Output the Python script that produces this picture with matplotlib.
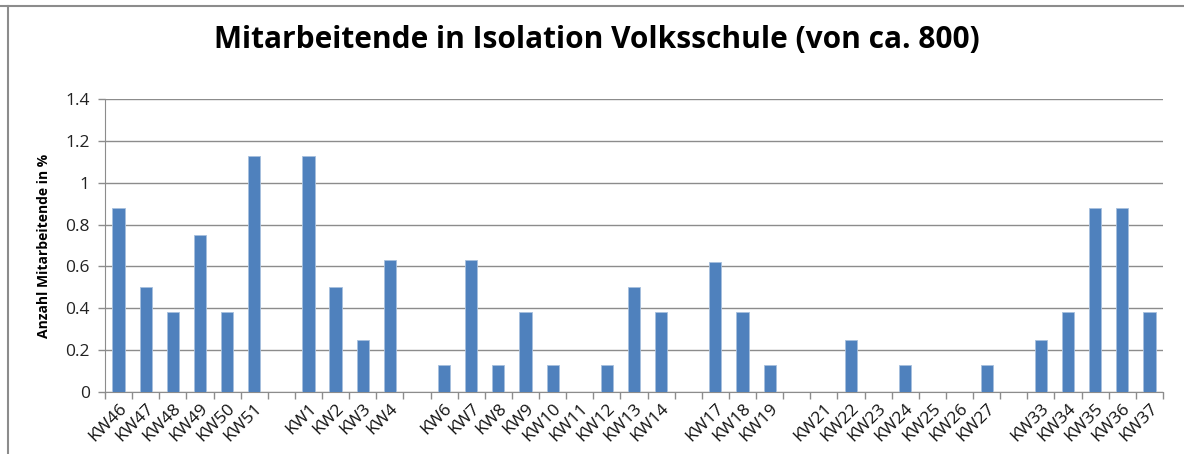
import matplotlib
matplotlib.use("Agg")
import matplotlib.pyplot as plt
import numpy as np

categories = ["KW46", "KW47", "KW48", "KW49", "KW50", "KW51", "",
              "KW1", "KW2", "KW3", "KW4", "",
              "KW6", "KW7", "KW8", "KW9", "KW10", "KW11", "KW12", "KW13", "KW14", "",
              "KW17", "KW18", "KW19", "",
              "KW21", "KW22", "KW23", "KW24", "KW25", "KW26", "KW27", "",
              "KW33", "KW34", "KW35", "KW36", "KW37"]
values = [0.88, 0.50, 0.38, 0.75, 0.38, 1.13, 0,
          1.13, 0.50, 0.25, 0.63, 0,
          0.13, 0.63, 0.13, 0.38, 0.13, 0, 0.13, 0.50, 0.38, 0,
          0.62, 0.38, 0.13, 0,
          0, 0.25, 0, 0.13, 0, 0, 0.13, 0,
          0.25, 0.38, 0.88, 0.88, 0.38]
yticks = [0, 0.2, 0.4, 0.6, 0.8, 1, 1.2, 1.4]
ytick_labels = ["0", "0.2", "0.4", "0.6", "0.8", "1", "1.2", "1.4"]

plt.rcParams['font.family'] = ['Open Sans', 'DejaVu Sans']

fig = plt.figure(figsize=(11.84, 4.54), dpi=100)
ax = fig.add_axes([105/1184, 1-392/454, (1163-105)/1184, (392-99)/454])

n = len(categories)
x = np.arange(n)
ax.bar(x, values, width=0.45, color="#4F81BD", edgecolor="#A7C0DE", linewidth=0.6, zorder=3)

ax.set_xlim(-0.5, n - 0.5)
ax.set_ylim(0, 1.4)
ax.set_yticks(yticks)
ax.set_yticklabels(ytick_labels, fontsize=12.5, color="#222222")
ax.yaxis.grid(True, color="#8C8C8C", linewidth=1.0, zorder=0)

ax.set_xticks(x)
ax.set_xticklabels(categories, rotation=45, ha="right", rotation_mode="anchor", fontsize=12.5, color="#111111")
ax.tick_params(axis="x", which="major", length=0, pad=6)
ax.set_xticks(np.arange(n + 1) - 0.5, minor=True)
ax.tick_params(axis="x", which="minor", length=5, width=1, color="#8C8C8C", direction="out")
ax.tick_params(axis="y", length=5, width=1, color="#8C8C8C", direction="out", pad=6)

for s in ["top", "right"]:
    ax.spines[s].set_visible(False)
ax.spines["left"].set_color("#8C8C8C")
ax.spines["bottom"].set_color("#8C8C8C")

ax.set_ylabel("Anzahl Mitarbeitende in %", fontsize=10, fontweight="bold", labelpad=10)

fig.text(597/1184, 1-40/454, "Mitarbeitende in Isolation Volksschule (von ca. 800)",
         ha="center", va="center", fontsize=21.5, fontweight="bold")

# outer frame lines (top and left)
fig.add_artist(plt.Line2D([0, 1], [1-6/454, 1-6/454], color="#8C8C8C", linewidth=1.5, transform=fig.transFigure))
fig.add_artist(plt.Line2D([8/1184, 8/1184], [0, 1-6/454], color="#8C8C8C", linewidth=1.5, transform=fig.transFigure))

fig.savefig("out.png", dpi=100)
